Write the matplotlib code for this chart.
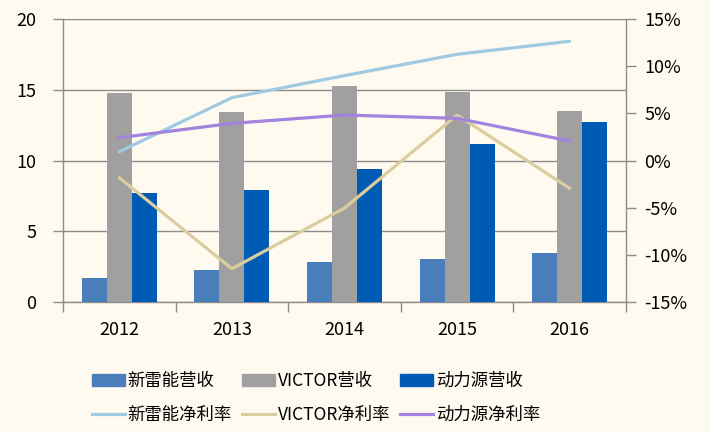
import matplotlib
matplotlib.use("Agg")
import matplotlib.pyplot as plt
import numpy as np
from matplotlib.patches import Patch
from matplotlib.lines import Line2D

plt.rcParams['font.family'] = ['Noto Sans CJK SC', 'DejaVu Sans']

years = ['2012', '2013', '2014', '2015', '2016']
xinleineng_rev = [1.72, 2.28, 2.85, 3.02, 3.48]
victor_rev = [14.77, 13.43, 15.29, 14.84, 13.52]
dongliyuan_rev = [7.68, 7.89, 9.40, 11.17, 12.72]
xinleineng_margin = [0.93, 6.66, 9.0, 11.26, 12.64]
victor_margin = [-1.82, -11.47, -5.04, 4.82, -2.95]
dongliyuan_margin = [2.42, 3.94, 4.82, 4.47, 2.07]

bg = '#FFFAF0'
grid_c = '#8C8C8C'
c_bar1, c_bar2, c_bar3 = '#4A7EBB', '#A0A0A0', '#005BB4'
c_l1, c_l2, c_l3 = '#A0CAE2', '#DCCD9E', '#A184DE'

fig = plt.figure(figsize=(7.10, 4.33), dpi=100, facecolor=bg)
ax = fig.add_axes([0.0887, 0.3025, 0.793, 0.6536])
ax.set_facecolor(bg)

x = np.arange(len(years))
w = 0.222
ax.bar(x - w, xinleineng_rev, w, color=c_bar1, zorder=3)
ax.bar(x, victor_rev, w, color=c_bar2, zorder=3)
ax.bar(x + w, dongliyuan_rev, w, color=c_bar3, zorder=3)

ax.set_xlim(-0.5, len(years) - 0.5)
ax.set_ylim(0, 20)
ax.set_yticks([0, 5, 10, 15, 20])
ax.yaxis.grid(True, color=grid_c, linewidth=1, zorder=0)
ax.set_axisbelow(True)
ax.set_xticks(np.arange(-0.5, len(years)), minor=False)
ax.set_xticklabels([''] * (len(years) + 1))
ax.set_xticks(x, minor=True)
ax.set_xticklabels(years, minor=True)
ax.tick_params(axis='x', which='minor', length=0, pad=14, labelsize=13)
ax.tick_params(axis='x', which='major', length=7, color=grid_c, width=1)
ax.tick_params(axis='y', length=7, color=grid_c, width=1, labelsize=13, pad=12)
for s in ['top', 'right']:
    ax.spines[s].set_visible(False)
for s in ['left', 'bottom']:
    ax.spines[s].set_color(grid_c)
    ax.spines[s].set_linewidth(1)

ax2 = ax.twinx()
ax2.plot(x, xinleineng_margin, color=c_l1, lw=2.3, solid_capstyle='round')
ax2.plot(x, victor_margin, color=c_l2, lw=2.3, solid_capstyle='round')
ax2.plot(x, dongliyuan_margin, color=c_l3, lw=2.3, solid_capstyle='round')
ax2.set_ylim(-15, 15)
ax2.set_yticks([-15, -10, -5, 0, 5, 10, 15])
ax2.set_yticklabels([f'{v}%' for v in [-15, -10, -5, 0, 5, 10, 15]])
ax2.tick_params(axis='y', length=7, color=grid_c, width=1, labelsize=13, pad=6)
for s in ['top', 'left', 'bottom']:
    ax2.spines[s].set_visible(False)
ax2.spines['right'].set_color(grid_c)
ax2.spines['right'].set_linewidth(1)

handles = [
    Patch(color=c_bar1), Patch(color=c_bar2), Patch(color=c_bar3),
    Line2D([], [], color=c_l1, lw=2.3), Line2D([], [], color=c_l2, lw=2.3), Line2D([], [], color=c_l3, lw=2.3),
]
labels = ['新雷能营收', 'VICTOR营收', '动力源营收', '新雷能净利率', 'VICTOR净利率', '动力源净利率']
order = [0, 3, 1, 4, 2, 5]
leg = fig.legend([handles[i] for i in order], [labels[i] for i in order],
                 ncol=3, loc='center', bbox_to_anchor=(0.445, 0.081),
                 frameon=False, fontsize=12.5, handlelength=1.9, handleheight=0.7,
                 handletextpad=0.15, columnspacing=0.6, labelspacing=0.95)

fig.savefig('out.png', dpi=100, facecolor=bg)
